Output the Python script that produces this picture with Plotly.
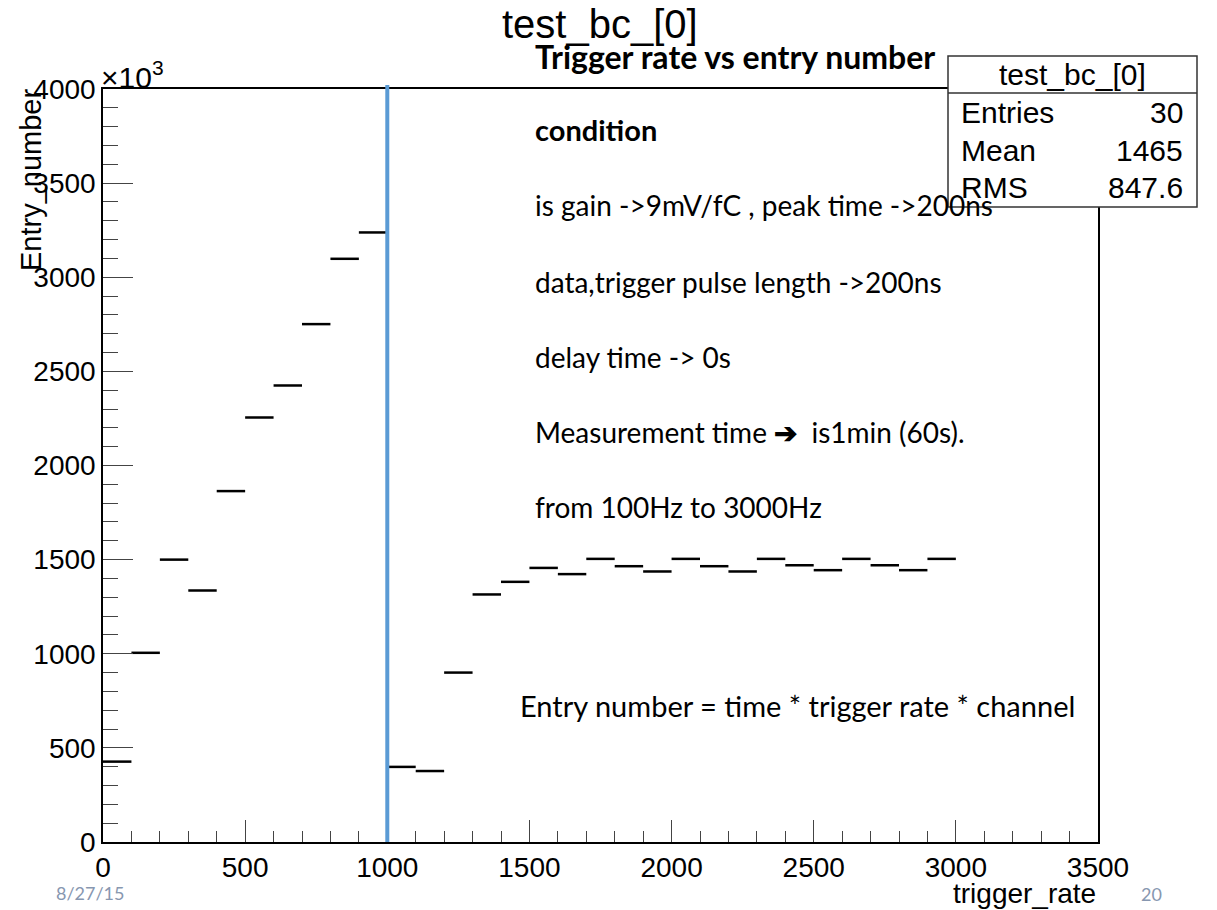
import plotly.graph_objects as go

# ---- data (values in units of 10^3 entries) ----
bin_low = [0, 100, 200, 300, 400, 500, 600, 700, 800, 900,
           1000, 1100, 1200, 1300, 1400, 1500, 1600, 1700, 1800, 1900,
           2000, 2100, 2200, 2300, 2400, 2500, 2600, 2700, 2800, 2900]
bin_width = 100
entries_k = [427, 1005, 1500, 1336, 1864, 2255, 2425, 2751, 3098, 3238,
             399, 377, 900, 1315, 1382, 1456, 1423, 1504, 1465, 1437,
             1504, 1465, 1437, 1504, 1470, 1444, 1504, 1470, 1444, 1504]
x_ticks = [0, 500, 1000, 1500, 2000, 2500, 3000, 3500]
y_ticks = [0, 500, 1000, 1500, 2000, 2500, 3000, 3500, 4000]
marker_rate = 1000

stats_title = "test_bc_[0]"
stats_rows = [("Entries", "30"), ("Mean", "1465"), ("RMS", "847.6")]
notes = [
    ("<b>Trigger rate vs entry number</b>", 533, 56, 32),
    ("<b>condition</b>", 533, 130, 29),
    ("is gain -&gt;9mV/fC , peak time -&gt;200ns", 533, 205, 28),
    ("data,trigger pulse length -&gt;200ns", 533, 282, 28),
    ("delay time -&gt; 0s", 533, 357, 28),
    ("Measurement time <b>➔</b>  is1min (60s).", 533, 432, 28),
    ("from 100Hz to 3000Hz", 533, 507, 28),
    ("Entry number = time * trigger rate * channel", 518, 705, 29),
]

# ---- layout geometry ----
W, H = 1217, 910
L, T, R, B = 103, 89, 119, 68
PW, PH = W - L - R, H - T - B


def px(x):
    return (x - L) / PW


def py(y):
    return (H - B - y) / PH


ROOT_FONT = "Liberation Sans, Arial, Helvetica, sans-serif"
SLIDE_FONT = "Lato, Open Sans, sans-serif"

xs, ys = [], []
for lo, v in zip(bin_low, entries_k):
    xs += [lo, lo + bin_width, None]
    ys += [v, v, None]

fig = go.Figure()
fig.add_trace(go.Scatter(x=xs, y=ys, mode="lines",
                         line=dict(color="black", width=2.5),
                         hoverinfo="skip", showlegend=False))

axis_common = dict(showline=True, linecolor="black", linewidth=1.5, mirror=True,
                   ticks="inside", tickwidth=1.3, tickcolor="#444",
                   showgrid=False, zeroline=False,
                   tickfont=dict(family=ROOT_FONT, size=28, color="black"))

fig.update_layout(
    width=W, height=H,
    margin=dict(l=L, r=R, t=T, b=B),
    paper_bgcolor="white", plot_bgcolor="white",
    showlegend=False,
    xaxis=dict(range=[0, 3500], tickvals=x_ticks, ticklen=22,
               minor=dict(dtick=100, ticklen=11, ticks="inside", tickcolor="#444", tickwidth=1.3),
               **axis_common),
    yaxis=dict(range=[0, 4000], tickvals=y_ticks, ticklen=30,
               minor=dict(dtick=100, ticklen=15, ticks="inside", tickcolor="#444", tickwidth=1.3),
               **axis_common),
)

# blue marker line at 1000 Hz
fig.add_shape(type="line", xref="x", yref="paper", x0=marker_rate, x1=marker_rate,
              y0=0, y1=py(85), line=dict(color="#5B9BD5", width=4))

ann = []
# title
ann.append(dict(text=stats_title, x=px(600), y=py(24), xref="paper", yref="paper",
                xanchor="center", yanchor="middle", showarrow=False,
                font=dict(family=ROOT_FONT, size=40, color="black")))
# x10^3
ann.append(dict(text="×10<sup>3</sup>", x=px(99), y=py(75), xref="paper", yref="paper",
                xanchor="left", yanchor="middle", showarrow=False,
                font=dict(family=ROOT_FONT, size=30, color="black")))
# axis titles
ann.append(dict(text="trigger_rate", x=px(1098), y=py(893), xref="paper", yref="paper",
                xanchor="right", yanchor="middle", showarrow=False,
                font=dict(family=ROOT_FONT, size=28, color="black")))
ann.append(dict(text="Entry_number", x=px(31), y=py(87), xref="paper", yref="paper",
                xanchor="center", yanchor="top", textangle=-90, showarrow=False,
                font=dict(family=ROOT_FONT, size=29, color="black")))
# slide notes
for txt, x, y, s in notes:
    ann.append(dict(text=txt, x=px(x), y=py(y), xref="paper", yref="paper",
                    xanchor="left", yanchor="middle", showarrow=False,
                    font=dict(family=SLIDE_FONT, size=s, color="black")))
# footer
ann.append(dict(text="8/27/15", x=px(54), y=py(893), xref="paper", yref="paper",
                xanchor="left", yanchor="middle", showarrow=False,
                font=dict(family=SLIDE_FONT, size=18, color="#8797B0")))
ann.append(dict(text="20", x=px(1139), y=py(894), xref="paper", yref="paper",
                xanchor="left", yanchor="middle", showarrow=False,
                font=dict(family=SLIDE_FONT, size=18, color="#8797B0")))

# stats box
bx0, bx1, by0, by1, bhead = 948, 1197, 56, 207, 93
fig.add_shape(type="rect", xref="paper", yref="paper",
              x0=px(bx0), x1=px(bx1), y0=py(by1), y1=py(by0),
              line=dict(color="#333", width=1.5), fillcolor="white", layer="above")
fig.add_shape(type="line", xref="paper", yref="paper",
              x0=px(bx0), x1=px(bx1), y0=py(bhead), y1=py(bhead),
              line=dict(color="#333", width=1.5), layer="above")
ann.append(dict(text=stats_title, x=px((bx0 + bx1) / 2), y=py(74), xref="paper", yref="paper",
                xanchor="center", yanchor="middle", showarrow=False,
                font=dict(family=ROOT_FONT, size=30, color="black")))
for i, (k, v) in enumerate(stats_rows):
    yy = 113 + i * 37
    ann.append(dict(text=k, x=px(959), y=py(yy), xref="paper", yref="paper",
                    xanchor="left", yanchor="middle", showarrow=False,
                    font=dict(family=ROOT_FONT, size=30, color="black")))
    ann.append(dict(text=v, x=px(1185), y=py(yy), xref="paper", yref="paper",
                    xanchor="right", yanchor="middle", showarrow=False,
                    font=dict(family=ROOT_FONT, size=30, color="black")))

fig.update_layout(annotations=ann)
fig.write_html("out.html")
